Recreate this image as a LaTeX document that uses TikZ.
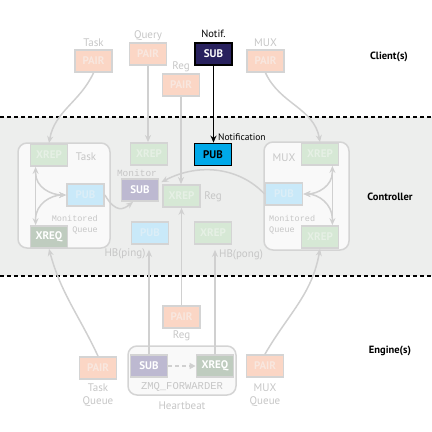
\documentclass[tikz,border=0pt]{standalone}
\usepackage{fontspec}
\setmainfont{PT Sans}
\newfontfamily\monof{Liberation Mono}
\usetikzlibrary{arrows.meta,calc}
\definecolor{ctrlbg}{HTML}{EDEEED}
\definecolor{contfill}{HTML}{F9F9F9}
\definecolor{bordergray}{HTML}{D4D4D4}
\definecolor{conngray}{HTML}{D0D0D0}
\definecolor{lblgray}{HTML}{C6C6C6}
\definecolor{pairfill}{HTML}{FBD6C5}
\definecolor{pairtext}{HTML}{F8E7DF}
\definecolor{xrepfill}{HTML}{D6E8D5}
\definecolor{xreptext}{HTML}{E6F0E5}
\definecolor{pubfill}{HTML}{C9E9F9}
\definecolor{pubtext}{HTML}{DCEEF7}
\definecolor{xreqfill}{HTML}{BFCCBF}
\definecolor{subfill}{HTML}{BDB9D1}
\definecolor{notiffill}{HTML}{28215E}
\definecolor{notifpub}{HTML}{00A9E9}
\tikzset{
  box/.style={draw=bordergray, line width=1.8pt, minimum width=37pt, minimum height=22pt, inner sep=0pt, font=\fontsize{11}{11}\selectfont\bfseries},
  pairbox/.style={box, fill=pairfill, text=pairtext},
  xrepbox/.style={box, fill=xrepfill, text=xreptext},
  pubbox/.style={box, fill=pubfill, text=pubtext},
  xreqbox/.style={box, fill=xreqfill, text=white},
  subbox/.style={box, fill=subfill, text=white},
  lbl/.style={text=lblgray, font=\fontsize{11}{11}\selectfont, inner sep=0pt},
  mlbl/.style={text=lblgray, font=\monof\fontsize{8.5}{8.5}\selectfont, inner sep=0pt},
  side/.style={font=\fontsize{10.5}{10.5}\selectfont\bfseries, inner sep=0pt},
  cont/.style={draw=bordergray, line width=1.5pt, fill=contfill, rounded corners=9pt},
  conn/.style={draw=conngray, line width=1.5pt, -{Stealth[length=7pt,width=6pt]}},
  dconn/.style={draw=conngray, line width=1.5pt, {Stealth[length=7pt,width=6pt]}-{Stealth[length=7pt,width=6pt]}},
  band/.style={draw=black, line width=1.6pt, dash pattern=on 4pt off 3pt},
}
\begin{document}
\begin{tikzpicture}[x=1pt,y=-1pt]
\useasboundingbox (0,0) rectangle (432,432);
% controller band
\fill[ctrlbg] (0,117) rectangle (432,276);
\draw[band] (0,117) -- (432,117);
\draw[band] (0,276) -- (432,276);

% containers
\draw[cont] (18,143) rectangle (110,248);
\draw[cont] (264,142) rectangle (349,250);
\draw[cont] (128,346) rectangle (236,395);

% client nodes
\node[pairbox] (tpair) at (93.5,61) {PAIR};
\node[lbl] at (93.5,43) {Task};
\node[pairbox] (qpair) at (148,54) {PAIR};
\node[lbl] at (148,36) {Query};
\node[pairbox] (rpair) at (181,85) {PAIR};
\node[lbl] at (181,67) {Reg};
\node[box, draw=black, fill=notiffill, text=white] (nsub) at (213.5,54) {SUB};
\node[inner sep=0pt, font=\fontsize{10.5}{10.5}\selectfont] at (213.5,34) {Notif.};
\node[pairbox] (mpair) at (265.5,61) {PAIR};
\node[lbl] at (265.5,43) {MUX};
\node[side] at (389,57) {Client(s)};

% controller nodes
\node[xrepbox] (txrep) at (49,155) {XREP};
\node[lbl] at (86,157) {Task};
\node[pubbox] (tpub) at (85.5,195) {PUB};
\node[xreqbox] (txreq) at (49,237) {XREQ};
\node[mlbl, anchor=east] at (98,218) {Monitored};
\node[mlbl, anchor=east] at (98,230) {Queue};
\node[xrepbox] (qxrep) at (149,154) {XREP};
\node[subbox] (msub) at (140,190) {SUB};
\node[mlbl, font=\monof\fontsize{9.5}{9.5}\selectfont] at (137,173) {Monitor};
\node[xrepbox] (rxrep) at (181.5,196) {XREP};
\node[lbl] at (213,197) {Reg};
\node[pubbox] (ping) at (150,233) {PUB};
\node[lbl] at (125,254) {HB(ping)};
\node[xrepbox] (pong) at (213,233) {XREP};
\node[lbl] at (241,255) {HB(pong)};
\node[box, draw=black, fill=notifpub, text=black] (npub) at (213,154.5) {PUB};
\node[inner sep=0pt, anchor=west, font=\fontsize{9.5}{9.5}\selectfont] at (218,137) {Notification};
\node[xrepbox] (mxrep) at (320,154) {XREP};
\node[lbl] at (284,158) {MUX};
\node[pubbox] (mpub) at (284,194) {PUB};
\node[xrepbox] (mxrep2) at (320,237) {XREP};
\node[mlbl, anchor=west] at (269,218) {Monitored};
\node[mlbl, anchor=west] at (269,230) {Queue};
\node[side] at (390,197) {Controller};

% engine nodes
\node[pairbox] (erpair) at (181.5,317) {PAIR};
\node[lbl] at (181.5,336) {Reg};
\node[subbox] (esub) at (149,366) {SUB};
\node[xreqbox] (exreq) at (215,366) {XREQ};
\node[mlbl, font=\monof\fontsize{10.5}{10.5}\selectfont] at (182,387) {ZMQ\_FORWARDER};
\node[lbl] at (182,406) {Heartbeat};
\node[pairbox] (tqpair) at (98,368) {PAIR};
\node[lbl] at (98,388) {Task};
\node[lbl] at (98,402) {Queue};
\node[pairbox] (mqpair) at (265,366) {PAIR};
\node[lbl] at (265,388) {MUX};
\node[lbl] at (265,402) {Queue};
\node[side] at (390,351) {Engine(s)};

% connectors client -> controller
\draw[conn] (tpair.south) to[out=-115,in=80] (txrep.north);
\draw[conn] (qpair.south) -- (qpair.south |- qxrep.north);
\draw[conn] (rpair.south) -- (rpair.south |- rxrep.north);
\draw[line width=1.8pt, -{Stealth[length=7pt,width=6pt]}] (nsub.south) -- (nsub.south |- npub.north);
\draw[conn] (mpair.south) to[out=-65,in=100] (mxrep.north);

% task monitored queue
\draw[dconn] ([xshift=6pt]txrep.south west) -- ([xshift=6pt]txreq.north west);
\draw[conn] ([xshift=6pt,yshift=-6pt]txrep.south west) to[out=-90,in=180] (tpub.west);
\draw[conn] ([xshift=6pt,yshift=6pt]txreq.north west) to[out=90,in=180] (tpub.west);
% mux monitored queue
\draw[dconn] ([xshift=-7pt]mxrep.south east) -- ([xshift=-7pt]mxrep2.north east);
\draw[conn] ([xshift=-7pt,yshift=-6pt]mxrep.south east) to[out=-90,in=0] (mpub.east);
\draw[conn] ([xshift=-7pt,yshift=6pt]mxrep2.north east) to[out=90,in=0] (mpub.east);

% monitor
\draw[conn] (tpub.east) .. controls (116,214) and (124,209) .. ([xshift=-7pt]msub.south);
\draw[conn] (mpub.west) .. controls (240,168) and (200,162) .. ([xshift=2pt,yshift=-4pt]msub.north east);

% engine -> controller
\draw[conn] (erpair.north) -- (erpair.north |- rxrep.south);
\draw[conn, shorten >=5pt] (esub.north) -- (esub.north |- ping.south);
\draw[conn, shorten >=5pt] (exreq.north) -- (exreq.north |- pong.south);
\draw[conn] (tqpair.north) to[out=115,in=-75] (txreq.south);
\draw[conn] (mqpair.north) to[out=60,in=-100] (mxrep2.south);
\draw[draw=conngray, line width=1.5pt, dash pattern=on 4pt off 3pt, -{Triangle[length=6pt,width=6pt]}] (esub.east) -- (exreq.west);
\end{tikzpicture}
\end{document}
